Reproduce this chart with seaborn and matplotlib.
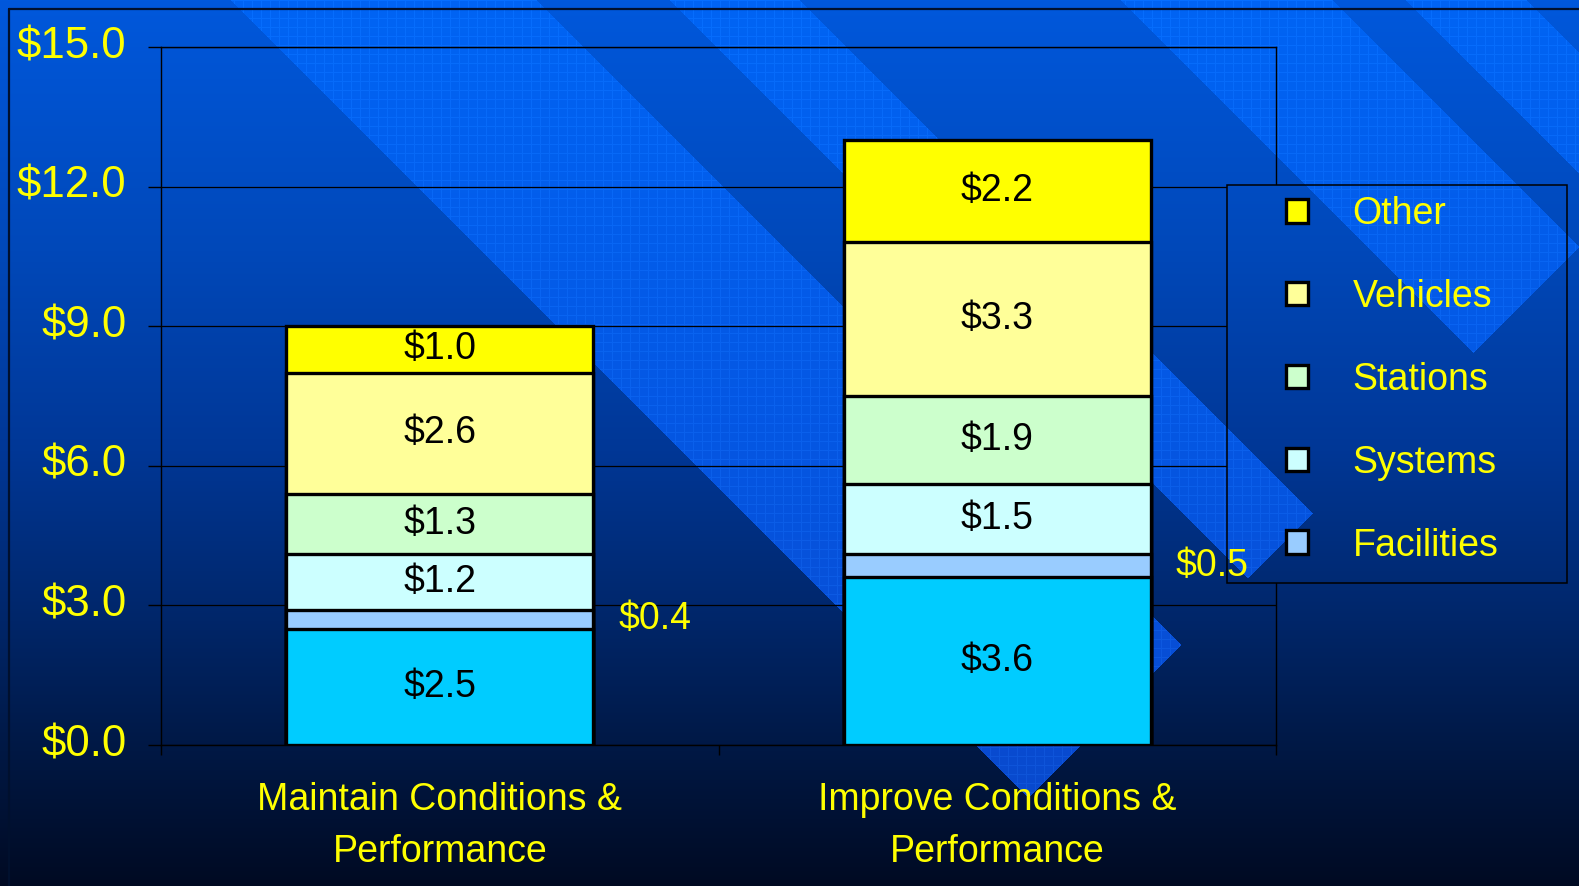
import numpy as np
import pandas as pd
import matplotlib
matplotlib.use("Agg")
import matplotlib.pyplot as plt
import seaborn as sns
from matplotlib.patches import Patch, Rectangle
from matplotlib.text import Text
from matplotlib.lines import Line2D
from matplotlib.transforms import ScaledTranslation

# ---------------- data ----------------
scenarios = ["Maintain Conditions &\nPerformance", "Improve Conditions &\nPerformance"]
components = ["Guideway", "Facilities", "Systems", "Stations", "Vehicles", "Other"]  # bottom -> top
guideway = [2.5, 3.6]
facilities = [0.4, 0.5]
systems = [1.2, 1.5]
stations = [1.3, 1.9]
vehicles = [2.6, 3.3]
other = [1.0, 2.2]
legend_items = ["Other", "Vehicles", "Stations", "Systems", "Facilities"]
y_ticks = [0, 3, 6, 9, 12, 15]

colors = {
    "Guideway": "#00CCFF",
    "Facilities": "#99CCFF",
    "Systems": "#CCFFFF",
    "Stations": "#CCFFCC",
    "Vehicles": "#FFFF99",
    "Other": "#FFFF00",
}
YELLOW = "#FFFF00"

series = {"Guideway": guideway, "Facilities": facilities, "Systems": systems,
          "Stations": stations, "Vehicles": vehicles, "Other": other}
df = pd.DataFrame(series, index=scenarios)[components]
cum = df.cumsum(axis=1)

# ---------------- style ----------------
sns.set_style("white")
plt.rcParams["font.family"] = ["Liberation Sans", "DejaVu Sans"]

W, H = 1579, 886
fig = plt.figure(figsize=(W / 100, H / 100), dpi=100)

# ---------------- decorative background ----------------
yy, xx = np.mgrid[0:H, 0:W].astype(float)
ys = [0, 250, 450, 620, 750, 886]
bg_stops = np.array([[0, 88, 220], [0, 72, 185], [0, 55, 150], [0, 38, 105], [0, 24, 68], [0, 10, 34]], float)
lt_ys = [0, 450, 886]
lt_stops = np.array([[0, 100, 244], [5, 86, 226], [10, 70, 200]], float)
bg = np.stack([np.interp(yy, ys, bg_stops[:, k]) for k in range(3)], -1)
lt = np.stack([np.interp(yy, lt_ys, lt_stops[:, k]) for k in range(3)], -1)
gridmask = ((xx % 9) < 1) | ((yy % 9) < 1)
lt = lt + gridmask[..., None] * np.array([6, 10, 10])
d = xx - yy
s = xx + yy
mask = (((d > 230) & (d < 537)) | ((d > 669) & (d < 800)) |
        ((d > 1120) & (d < 1333)) | ((d > 1405) & (d < 1527))) & (s < 1826)
img = np.clip(np.where(mask[..., None], lt, bg) / 255.0, 0, 1)

bg_ax = fig.add_axes([0, 0, 1, 1], zorder=0)
bg_ax.imshow(img, aspect="auto", interpolation="nearest")
bg_ax.axis("off")

# outer frame lines
fig.add_artist(Line2D([9 / W, 9 / W], [0, 1 - 9 / H], transform=fig.transFigure, color="#00102e", lw=1.6))
fig.add_artist(Line2D([9 / W, 1], [1 - 9 / H, 1 - 9 / H], transform=fig.transFigure, color="#00102e", lw=1.6))

# ---------------- main axes ----------------
L, R, T, B = 161, 1276, 47, 745
ax = fig.add_axes([L / W, 1 - B / H, (R - L) / W, (B - T) / H], zorder=1)
ax.patch.set_visible(False)

for comp in reversed(components):
    sns.barplot(x=scenarios, y=cum[comp].values, color=colors[comp], saturation=1,
                width=0.55, edgecolor="black", linewidth=2.4, errorbar=None, ax=ax)

ax.set_ylim(0, 15)
ax.set_xlim(-0.5, 1.5)
ax.set_yticks(y_ticks)
ax.set_yticklabels([f"${v:.1f}" for v in y_ticks])
ax.yaxis.grid(True, color="black", lw=0.9)
ax.xaxis.grid(False)
ax.set_axisbelow(True)
for sp in ax.spines.values():
    sp.set_visible(True)
    sp.set_color("black")
    sp.set_linewidth(1.0)
ax.set_xlabel("")
ax.set_ylabel("")

ax.tick_params(axis="y", length=9.4, width=1, color="black", labelsize=31.5,
               labelcolor=YELLOW, pad=15.5, direction="out", left=True)
ax.set_xticks([0, 1])
ax.set_xticklabels(scenarios, fontsize=27, color=YELLOW, linespacing=1.56)
ax.tick_params(axis="x", which="major", length=0, pad=27, bottom=True)
ax.set_xticks([-0.5, 0.5, 1.5], minor=True)
ax.tick_params(axis="x", which="minor", length=7.5, width=1, color="black", direction="out", bottom=True)

# y tick labels sit slightly above their gridlines in the original
shift = ScaledTranslation(0, 3.5 / 72, fig.dpi_scale_trans)
for lab in ax.get_yticklabels():
    lab.set_transform(lab.get_transform() + shift)

# value labels
half = 0.55 / 2
for i, scen in enumerate(scenarios):
    bottom = 0.0
    for comp in components:
        v = series[comp][i]
        c = bottom + v / 2
        lab = f"${v:.1f}"
        if comp == "Facilities":
            t = Text(i + half + 0.045, c, lab, color=YELLOW, fontsize=27,
                     ha="left", va="center", transform=ax.transData,
                     fontfamily="Liberation Sans")
            t.set_zorder(6)
            fig.add_artist(t)
        else:
            ax.text(i, c, lab, color="black", fontsize=27, ha="center", va="center")
        bottom += v

# ---------------- legend ----------------
LX0, LY0, LX1, LY1 = 1227, 185, 1567, 583
ov = fig.add_axes([LX0 / W, 1 - LY1 / H, (LX1 - LX0) / W, (LY1 - LY0) / H], zorder=2)
ov.imshow(img[LY0:LY1, LX0:LX1], aspect="auto", interpolation="nearest")
ov.axis("off")
fig.add_artist(Rectangle((LX0 / W, 1 - LY1 / H), (LX1 - LX0) / W, (LY1 - LY0) / H,
                         transform=fig.transFigure, fill=False, edgecolor="black", lw=1.1, zorder=4))

handles = [Patch(facecolor=colors[c], edgecolor="black", linewidth=2.4) for c in legend_items]
fig.legend(handles, legend_items, loc="upper left", bbox_to_anchor=(1286 / W, 1 - 196 / H),
           frameon=False, fontsize=27, labelcolor=YELLOW, handlelength=0.59, handleheight=0.59,
           handletextpad=1.18, labelspacing=1.25, borderpad=0, borderaxespad=0)

fig.savefig("out.png", dpi=100)
